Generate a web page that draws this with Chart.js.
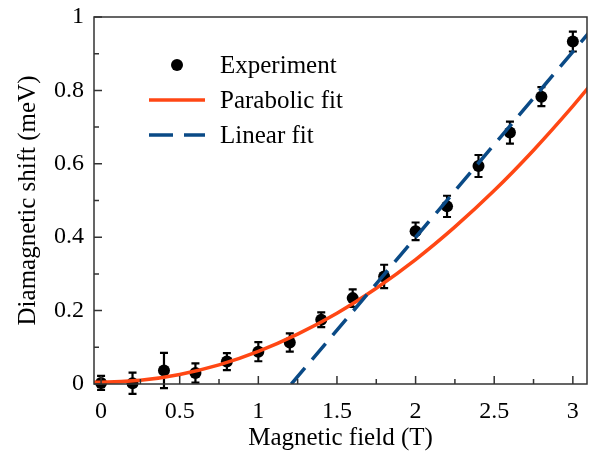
<!DOCTYPE html>
<html>
<head>
<meta charset="utf-8">
<script src="https://cdn.jsdelivr.net/npm/chart.js@4"></script>
<style>
  html,body{margin:0;padding:0;background:#fff;}
  #wrap{width:591px;height:457px;}
</style>
</head>
<body>
<div id="wrap"><canvas id="c" width="591" height="457"></canvas></div>
<script>
/* ---- data ---- */
const fieldT   = [0, 0.2, 0.4, 0.6, 0.8, 1.0, 1.2, 1.4, 1.6, 1.8, 2.0, 2.2, 2.4, 2.6, 2.8, 3.0];
const shiftMeV = [0.003, 0.002, 0.037, 0.030, 0.061, 0.088, 0.113, 0.175, 0.234, 0.293, 0.416, 0.484, 0.594, 0.685, 0.783, 0.933];
const shiftErr = [0.019, 0.029, 0.048, 0.026, 0.023, 0.026, 0.025, 0.020, 0.024, 0.032, 0.024, 0.029, 0.030, 0.030, 0.026, 0.027];

const paraX = [-0.05, 0, 0.25, 0.5, 0.75, 1.0, 1.25, 1.5, 1.75, 2.0, 2.25, 2.5, 2.75, 3.0, 3.1];
const paraY = [0.005, 0.005, 0.010, 0.026, 0.052, 0.089, 0.136, 0.193, 0.261, 0.339, 0.428, 0.527, 0.637, 0.757, 0.808];

const linX = [1.21, 3.1];
const linY = [0.0, 0.956];

const xTicks      = [0, 0.5, 1, 1.5, 2, 2.5, 3];
const xMinorTicks = [0.25, 0.75, 1.25, 1.75, 2.25, 2.75];
const yTicks      = [0, 0.2, 0.4, 0.6, 0.8, 1];
const yMinorTicks = [0.1, 0.3, 0.5, 0.7, 0.9];

const labels = ['Experiment', 'Parabolic fit', 'Linear fit'];

/* ---- style ---- */
const SERIF  = '"Liberation Serif", "DejaVu Serif", serif';
const ORANGE = '#ff4714';
const BLUE   = '#0a4a86';
const DASH   = [21, 11];

const pts = (xs, ys) => xs.map((x, i) => ({x, y: ys[i]}));

/* error bars under the markers */
const errorBars = {
  id: 'errorBars',
  beforeDatasetsDraw(chart){
    const {ctx, scales:{x, y}} = chart;
    ctx.save();
    ctx.strokeStyle = '#000';
    ctx.lineWidth = 2.2;
    fieldT.forEach((b, i) => {
      const px = x.getPixelForValue(b);
      const top = y.getPixelForValue(shiftMeV[i] + shiftErr[i]);
      const bot = y.getPixelForValue(shiftMeV[i] - shiftErr[i]);
      ctx.beginPath();
      ctx.moveTo(px, top); ctx.lineTo(px, bot);
      ctx.moveTo(px - 4, top); ctx.lineTo(px + 4, top);
      ctx.moveTo(px - 4, bot); ctx.lineTo(px + 4, bot);
      ctx.stroke();
    });
    ctx.restore();
  }
};

/* box, inward ticks, legend */
const frame = {
  id: 'frame',
  afterDraw(chart){
    const {ctx, chartArea:a, scales:{x, y}} = chart;
    ctx.save();
    ctx.strokeStyle = '#333';
    ctx.lineWidth = 1.5;
    ctx.strokeRect(a.left, a.top, a.right - a.left, a.bottom - a.top);
    ctx.beginPath();
    const tx = (v, len) => { const p = x.getPixelForValue(v); ctx.moveTo(p, a.bottom); ctx.lineTo(p, a.bottom - len); };
    const ty = (v, len) => { const p = y.getPixelForValue(v); ctx.moveTo(a.left, p); ctx.lineTo(a.left + len, p); };
    xTicks.forEach(v => tx(v, 8));
    xMinorTicks.forEach(v => tx(v, 5));
    yTicks.forEach(v => ty(v, 8));
    yMinorTicks.forEach(v => ty(v, 5));
    ctx.stroke();

    /* legend */
    ctx.font = '25px ' + SERIF;
    ctx.textBaseline = 'middle';
    ctx.fillStyle = '#000';
    const lx0 = 149, lx1 = 205, tx0 = 220;
    const rows = [65, 100, 135];
    ctx.beginPath();
    ctx.arc((lx0 + lx1) / 2, rows[0], 6, 0, Math.PI * 2);
    ctx.fill();
    ctx.lineWidth = 3.5;
    ctx.strokeStyle = ORANGE;
    ctx.beginPath(); ctx.moveTo(lx0, rows[1]); ctx.lineTo(lx1, rows[1]); ctx.stroke();
    ctx.strokeStyle = BLUE;
    ctx.setLineDash([24, 11]);
    ctx.beginPath(); ctx.moveTo(lx0, rows[2]); ctx.lineTo(lx1, rows[2]); ctx.stroke();
    ctx.setLineDash([]);
    labels.forEach((t, i) => ctx.fillText(t, tx0, rows[i] + 1));
    ctx.restore();
  }
};

const fmt = v => String(+v.toFixed(2));
const noPad = s => { s.paddingLeft = s.paddingRight = s.paddingTop = s.paddingBottom = 0; };

new Chart(document.getElementById('c'), {
  type: 'scatter',
  data: {
    datasets: [
      {label: labels[0], data: pts(fieldT, shiftMeV), pointRadius: 6, pointHoverRadius: 6,
       backgroundColor: '#000', borderColor: '#000', borderWidth: 0, clip: false, order: 3},
      {label: labels[1], data: pts(paraX, paraY), showLine: true, pointRadius: 0,
       borderColor: ORANGE, borderWidth: 3.5, cubicInterpolationMode: 'monotone', order: 2},
      {label: labels[2], data: pts(linX, linY), showLine: true, pointRadius: 0,
       borderColor: BLUE, borderWidth: 3.5, borderDash: DASH, order: 1}
    ]
  },
  options: {
    responsive: false,
    animation: false,
    layout: {autoPadding: false, padding: {top: 17, right: 4, left: 0, bottom: 0}},
    plugins: {legend: {display: false}, tooltip: {enabled: false}},
    scales: {
      x: {
        type: 'linear', min: -0.045, max: 3.09,
        grid: {display: false, drawTicks: false},
        border: {display: false},
        afterBuildTicks: s => { s.ticks = xTicks.map(v => ({value: v})); },
        afterFit: s => { s.height = 73; noPad(s); },
        ticks: {font: {family: SERIF, size: 24}, color: '#000', padding: 13, maxRotation: 0, callback: fmt},
        title: {display: true, text: 'Magnetic field (T)', font: {family: SERIF, size: 25}, color: '#000',
                padding: {top: 0, bottom: 4}}
      },
      y: {
        min: 0, max: 1,
        grid: {display: false, drawTicks: false},
        border: {display: false},
        afterBuildTicks: s => { s.ticks = yTicks.map(v => ({value: v})); },
        afterFit: s => { s.width = 94; noPad(s); },
        ticks: {font: {family: SERIF, size: 24}, color: '#000', padding: 10, callback: fmt},
        title: {display: true, text: 'Diamagnetic shift (meV)', font: {family: SERIF, size: 25}, color: '#000',
                padding: {top: 13, bottom: 0}}
      }
    }
  },
  plugins: [errorBars, frame]
});
</script>
</body>
</html>
